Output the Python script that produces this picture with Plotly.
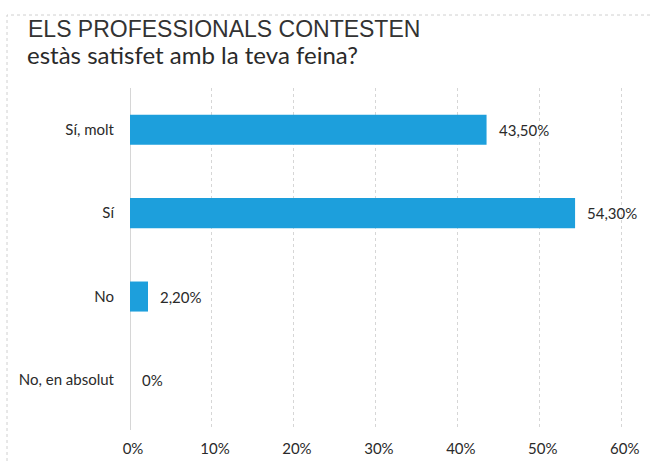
import plotly.graph_objects as go

categories = ["Sí, molt", "Sí", "No", "No, en absolut"]
values = [43.5, 54.3, 2.2, 0.0]
value_labels = ["43,50%", "54,30%", "2,20%", "0%"]
tick_vals = [0, 10, 20, 30, 40, 50, 60]
tick_text = ["0%", "10%", "20%", "30%", "40%", "50%", "60%"]

title_line1 = "ELS PROFESSIONALS CONTESTEN"
title_line2 = "estàs satisfet amb la teva feina?"

BAR_COLOR = "#1d9fdc"
TEXT_FONT = "Lato, sans-serif"

W, H = 651, 464
ML, MR, MT, MB = 130, 21, 88, 34
PW, PH = W - ML - MR, H - MT - MB

def px_x(p):
    return (p - ML) / PW

def px_y(p):
    return (H - MB - p) / PH

fig = go.Figure()
fig.add_trace(go.Bar(
    x=values, y=categories, orientation="h",
    marker=dict(color=BAR_COLOR, line=dict(width=0)),
    width=0.36, hoverinfo="skip",
))

annotations = []
for v, c, t in zip(values, categories, value_labels):
    annotations.append(dict(x=v, y=c, xref="x", yref="y", text=t, showarrow=False,
                            xanchor="left", xshift=10,
                            font=dict(family=TEXT_FONT, size=15, color="#2a2a2a")))
annotations.append(dict(x=px_x(26), y=px_y(29), xref="paper", yref="paper",
                        text=title_line1, showarrow=False, xanchor="left", yanchor="middle",
                        font=dict(family="Liberation Sans, Arial, sans-serif", size=23, color="#333333")))
annotations.append(dict(x=px_x(25), y=px_y(55), xref="paper", yref="paper",
                        text=title_line2, showarrow=False, xanchor="left", yanchor="middle",
                        font=dict(family=TEXT_FONT, size=24, color="#2a2a2a")))

fig.update_layout(
    width=W, height=H,
    margin=dict(l=ML, r=MR, t=MT, b=MB, pad=0, autoexpand=False),
    paper_bgcolor="white", plot_bgcolor="white",
    showlegend=False,
    annotations=annotations,
    shapes=[dict(type="rect", xref="paper", yref="paper",
                 x0=px_x(7), x1=px_x(700), y0=px_y(520), y1=px_y(15),
                 line=dict(color="#d0d0d0", width=1, dash="dot"), layer="below")],
    xaxis=dict(range=[0, 61], tickvals=tick_vals, ticktext=tick_text,
               showgrid=True, gridcolor="#d6d6d6", griddash="dot", gridwidth=1,
               zeroline=True, zerolinecolor="#d6d6d6", zerolinewidth=1,
               showline=False, ticks="outside", ticklen=5, tickcolor="rgba(0,0,0,0)",
               ticklabelshift=3, automargin=False,
               tickfont=dict(family=TEXT_FONT, size=15, color="#2a2a2a")),
    yaxis=dict(categoryorder="array", categoryarray=categories, range=[3.6, -0.5],
               showgrid=False, zeroline=False, showline=False,
               ticks="outside", ticklen=12, tickcolor="rgba(0,0,0,0)", automargin=False,
               tickfont=dict(family=TEXT_FONT, size=15, color="#2a2a2a")),
)

fig.write_html("out.html", config={"displayModeBar": False},
               post_script="document.body.style.margin='0';")
